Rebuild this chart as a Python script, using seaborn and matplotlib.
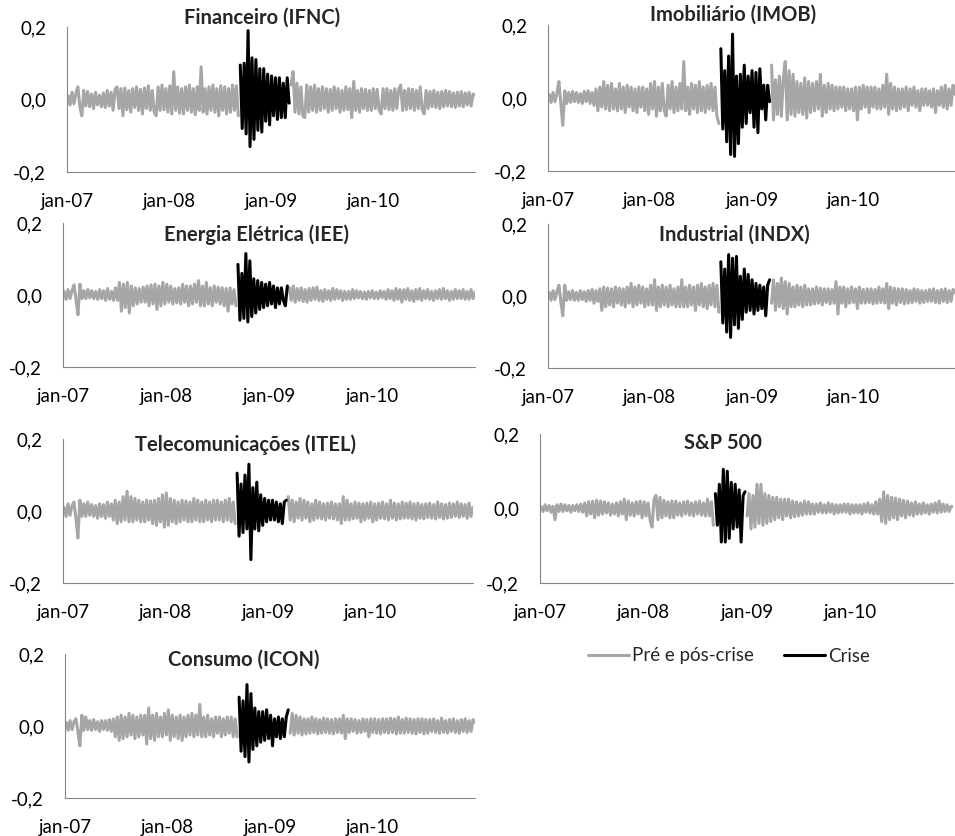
import numpy as np
import pandas as pd
import matplotlib
matplotlib.use("Agg")
import matplotlib.pyplot as plt
import seaborn as sns
from matplotlib.lines import Line2D
from matplotlib.ticker import FixedLocator, FuncFormatter

sns.set_theme(style="white")
plt.rcParams["font.family"] = ["Lato", "DejaVu Sans"]

# ---------------- data (weekly readings of daily returns, Jan-2007 .. Dec-2010) ----------------
first_week = "2007-01-05"

ifnc = [
    .010, -.015, .020, -.012, .018, .035, -.020, -.045, .025, -.018,
    .022, -.020, .015, -.025, .020, -.015, .012, -.020, .018, -.022,
    .025, -.018, .020, -.030, .028, .035, -.025, .030, -.045, .032,
    -.028, .025, -.035, .030, -.022, .035, -.030, .028, -.040, .032,
    -.025, .038, -.030, .025, -.035, -.045, .035, -.030, .040, -.028,
    .030, -.035, .038, -.040, .077, -.030, .035, -.038, .030, -.040,
    .035, -.030, .040, -.035, .030, -.042, .035, -.030, .090, -.035,
    .030, -.040, .035, -.030, .040, -.035, .030, -.045, .038, -.030,
    .035, -.040, .030, -.035, .040, -.030, .038, -.045,
    .095, -.080, .100, -.095, .190, -.130, .115, -.110, .110, -.085,
    .085, -.090, .085, -.060, .070, -.070, .065, -.045, .060, -.055,
    .060, -.050, .045, -.050, .060, -.010,
    .040, .077, -.035, .045, -.040, .035, -.045, -.050, .040, -.035,
    .035, -.030, .040, -.035, .030, -.030, .035, -.025, .030, -.035,
    .028, -.030, .035, -.025, .030, -.035, .025, -.030, .035, -.028,
    .030, -.050, .050, -.030, .025, -.035, .030, -.025, .028, -.030,
    .025, -.030, .030, -.025, .028, -.030, -.040, .030, -.025, .030,
    -.028, .025, -.030, .030, -.025, .028, .040, -.030, .025, -.028,
    .030, -.025, .028, -.030, .025, -.025, .035, -.028, -.040, .025,
    -.025, .022, -.020, .025, -.022, .020, -.025, .022, -.020, .025,
    -.018, .022, -.020, .018, -.022, .020, -.018, .022, -.020, .018,
    -.015, .020, -.018, .015, .012,
]

imob = [
    .010, -.012, .015, -.010, .012, .045, -.015, -.075, .020, -.015,
    .015, -.012, .018, -.010, .015, -.012, .012, -.015, .018, -.010,
    .020, -.015, .015, -.020, .025, -.035, .030, -.025, .045, -.030,
    .035, -.035, .040, -.030, .025, -.035, .040, -.030, .030, -.040,
    .035, -.025, .030, -.035, .025, -.040, .030, -.025, .030, -.035,
    .025, -.045, .040, -.030, .045, -.050, .030, -.035, .040, -.035,
    -.050, .035, -.030, .045, -.040, .030, -.035, .040, -.030, .100,
    -.035, .030, -.045, .040, -.030, .035, -.040, .045, -.035, .030,
    -.040, .035, -.030, .040, -.035, .030, -.050, -.070,
    .135, -.085, .075, -.120, .115, -.155, .175, -.160, .060, -.125,
    .065, -.080, .090, -.070, .060, -.040, .075, -.080, .070, -.095,
    .080, -.030, .035, -.060, .035, -.010,
    .090, -.060, .050, -.045, .060, -.050, .055, .100, -.060, .075,
    -.045, .065, -.050, .045, -.040, .040, -.045, .055, -.055, .045,
    -.040, .040, -.035, .045, -.030, .065, -.050, .035, -.040, .040,
    -.030, .035, -.035, .030, -.030, .030, -.025, .030, -.035, .025,
    -.030, .025, -.035, .030, -.060, .030, -.030, .035, -.025, .030,
    -.040, .030, -.025, .030, -.030, .025, -.030, .035, -.025, .065,
    -.045, .040, -.030, .030, -.035, .025, -.030, .025, -.025, .030,
    -.035, .025, -.020, .030, -.025, .020, -.035, .025, -.020, .025,
    -.020, .020, -.025, .025, -.040, .020, -.020, .030, -.025, .035,
    -.030, .025, -.020, .035, .010,
]

iee = [
    .010, -.012, .015, -.010, .012, .028, -.012, -.055, .030, -.010,
    .012, -.010, .015, -.008, .012, -.010, .010, -.012, .015, -.010,
    .012, -.015, .018, -.012, .010, -.015, .020, -.015, .035, -.045,
    .030, -.035, .035, -.050, .025, -.030, .020, -.025, .018, -.020,
    .022, -.020, .025, -.030, .028, -.025, .030, -.040, .025, -.030,
    .035, -.025, .030, -.020, .025, -.025, .018, -.022, .020, -.025,
    .030, -.020, .025, -.030, .025, -.025, .030, -.020, .040, -.030,
    .025, -.030, .035, -.025, .020, -.030, .025, -.020, .022, -.025,
    .020, -.030, .018, -.045, .020, -.025, .015, -.030,
    .085, -.070, .060, -.065, .115, -.075, .095, -.060, .045, -.050,
    .040, -.040, .035, -.035, .030, -.030, .035, -.025, .025, -.035,
    .020, -.025, .020, -.015, -.030, .025,
    .020, -.015, .025, -.020, .018, -.015, .020, -.018, .015, -.020,
    .018, -.015, .020, -.012, .022, -.015, .012, -.018, .015, -.012,
    .012, -.015, .018, -.012, .015, -.010, .012, -.015, .010, -.012,
    .010, -.012, .015, -.010, .012, -.008, .010, -.010, .008, -.012,
    .010, -.008, .012, -.010, .008, -.010, .012, -.008, .010, -.012,
    .015, -.010, .012, -.015, .018, -.012, .015, -.020, .015, -.012,
    .018, -.015, .012, -.018, .015, -.012, .018, -.015, .012, -.010,
    .015, -.012, .010, -.015, .012, -.010, .015, -.012, .018, -.010,
    .012, -.015, .010, -.012, .015, -.010, .012, -.010, .015, -.012,
    .010, -.012, .015, -.010, .008,
]

indx = [
    .010, -.012, .015, -.010, .012, .030, -.015, -.055, .030, -.012,
    .012, -.010, .015, -.012, .010, -.012, .015, -.010, .012, -.015,
    .015, -.012, .018, -.020, .015, -.015, .020, -.040, .025, -.030,
    .022, -.025, .020, -.030, .025, -.020, .022, -.025, .020, -.030,
    .025, -.020, .035, -.030, .025, -.025, .030, -.020, .025, -.030,
    .020, -.025, .030, -.025, .045, -.040, .025, -.030, .030, -.025,
    .025, -.030, .030, -.025, .020, -.030, .025, -.030, .045, -.030,
    .025, -.030, .030, -.025, .025, -.040, .030, -.025, .035, -.030,
    .025, -.035, .030, -.025, .035, -.030, .030, -.045,
    .095, -.075, .075, -.100, .115, -.115, .105, -.080, .110, -.090,
    .055, -.065, .075, -.045, .060, -.040, .045, -.050, .035, -.040,
    .030, -.035, .025, -.055, .030, .045,
    -.020, .045, -.040, .035, -.030, .050, -.035, .040, -.050, .035,
    -.030, .025, -.030, .030, -.025, .025, -.030, .030, -.025, .020,
    -.025, .020, -.022, .025, -.020, .022, -.025, .020, -.018, .020,
    -.022, .018, -.020, .040, -.050, .025, -.020, .025, -.030, .020,
    -.020, .025, -.018, .020, -.035, .025, -.020, .018, -.020, .020,
    -.018, .020, -.022, .018, -.020, .025, -.018, .020, -.020, .035,
    -.035, .025, -.020, .022, -.025, .020, -.018, .020, -.022, .018,
    -.020, .015, -.018, .020, -.015, .018, -.020, .015, -.018, .015,
    -.015, .018, -.015, .020, -.018, .015, -.020, .018, -.015, .020,
    -.018, .015, -.015, .018, .010,
]

itel = [
    .010, -.015, .020, -.012, .015, .025, -.020, -.075, .030, -.015,
    .020, -.015, .025, -.012, .018, -.015, .015, -.020, .020, -.015,
    .018, -.020, .025, -.015, .020, -.025, .030, -.035, .025, -.030,
    .040, -.025, .055, -.030, .040, -.030, .035, -.025, .030, -.030,
    .025, -.030, .030, -.025, .028, -.035, .030, -.040, .035, -.030,
    .045, -.045, .050, -.040, .035, -.030, .030, -.035, .025, -.030,
    .030, -.025, .028, -.030, .025, -.030, .035, -.025, .030, -.030,
    .025, -.030, .030, -.025, .025, -.030, .030, -.025, .030, -.025,
    .025, -.030, .030, -.025, .035, -.030, .025, -.035,
    .105, -.070, .075, -.060, .100, -.050, .130, -.135, .065, -.050,
    .080, -.055, .045, -.040, .035, -.030, .030, -.025, .030, -.025,
    .025, -.030, .020, -.035, .025, .030,
    .040, -.025, .030, -.030, .025, -.020, .035, -.025, .030, -.020,
    .025, -.030, .020, -.025, .030, -.020, .025, -.022, .020, -.025,
    .022, -.020, .025, -.022, .020, -.025, .020, -.035, .040, -.025,
    .030, -.025, .020, -.022, .025, -.020, .022, -.030, .020, -.025,
    .022, -.020, .025, -.030, .020, -.025, .022, -.020, .025, -.022,
    .020, -.025, .030, -.020, .022, -.025, .020, -.022, .025, -.020,
    .022, -.020, .025, -.022, .020, -.025, .022, -.020, .018, -.022,
    .020, -.018, .022, -.020, .018, -.022, .025, -.018, .020, -.022,
    .018, -.020, .022, -.018, .020, -.015, .025, -.018, .020, -.015,
    .018, -.020, .022, -.015, .010,
]

sp500 = [
    .005, -.008, .010, -.006, .008, -.010, .006, -.030, .010, -.008,
    .012, -.008, .010, -.006, .008, -.010, .008, -.006, .010, -.008,
    .012, -.010, .015, -.020, .018, -.015, .020, -.025, .022, -.018,
    .020, -.015, .018, -.012, .015, -.018, .012, -.015, .015, -.020,
    .018, -.015, .025, -.030, .020, -.018, .015, -.020, .018, -.015,
    .020, -.025, .018, -.020, .015, -.030, -.050, .025, .035, -.030,
    .030, -.025, .022, -.020, .018, -.025, .020, -.025, .020, -.018,
    .015, -.020, .018, -.015, .020, -.018, .015, -.020, .018, -.015,
    .020, -.018, .015, -.020, .025, -.020, .018, -.045,
    .040, -.045, .065, -.090, .105, -.090, .100, -.080, .070, -.055,
    .065, -.050, .050, -.090, .035, .045,
    -.020, .040, -.055, .035, -.050, .065, -.040, .065, -.045, .040,
    -.040, .035, -.035, .030, -.030, .030, -.025, .025, -.030, .025,
    -.020, .025, -.025, .020, -.022, .018, -.020, .015, -.018, .020,
    -.015, .018, -.015, .012, -.015, .012, -.010, .015, -.012, .010,
    -.012, .015, -.010, .012, -.015, .010, -.012, .010, -.010, .012,
    -.010, .012, -.015, .010, -.012, .010, -.012, .010, -.015, .012,
    -.010, .015, -.012, .010, -.015, .018, -.015, .025, -.035, .045,
    -.040, .035, -.030, .030, -.025, .028, -.030, .025, -.020, .022,
    -.025, .020, -.018, .015, -.020, .018, -.015, .012, -.015, .015,
    -.012, .010, -.015, .012, -.010, .015, -.012, .020, -.010, .012,
    -.008, .010, -.008, .006, .005,
]

icon = [
    .010, -.012, .015, -.010, .012, .020, -.015, -.055, .030, -.012,
    .025, -.010, .015, -.012, .018, -.010, .012, -.015, .015, -.010,
    .015, -.012, .018, -.015, .020, -.030, .025, -.040, .030, -.035,
    .025, -.030, .035, -.025, .030, -.035, .025, -.030, .030, -.025,
    .030, -.050, .050, -.035, .030, -.040, .035, -.030, .025, -.030,
    .035, -.025, .045, -.040, .030, -.030, .025, -.035, .030, -.040,
    .025, -.030, .030, -.025, .035, -.030, .030, -.025, .060, -.030,
    .025, -.030, .030, -.025, .020, -.030, .025, -.020, .025, -.030,
    .020, -.025, .025, -.020, .025, -.030, .020, -.030,
    .080, -.070, .070, -.085, .115, -.100, .090, -.065, .050, -.055,
    .040, -.045, .040, -.040, .045, -.035, .030, -.055, .020, -.030,
    .025, -.035, .020, -.030, .025, .045,
    -.020, .035, -.025, .030, -.020, .025, -.025, .020, -.022, .020,
    -.020, .025, -.018, .020, -.022, .018, -.020, .022, -.018, .020,
    -.020, .018, -.022, .020, -.018, .020, -.020, .030, -.035, .020,
    -.018, .020, -.015, .018, -.020, .015, -.018, .020, -.015, .018,
    -.030, .020, -.018, .020, -.020, .018, -.022, .020, -.018, .020,
    -.020, .022, -.018, .020, -.022, .025, -.020, .018, -.020, .022,
    -.018, .020, -.020, .018, -.022, .020, -.018, .020, -.022, .018,
    -.020, .018, -.015, .020, -.018, .015, -.020, .022, -.018, .015,
    -.020, .018, -.015, .020, -.018, .015, -.020, .018, -.015, .020,
    -.018, .015, -.015, .018, .010,
]

titles = ["Financeiro (IFNC)", "Imobiliário (IMOB)", "Energia Elétrica (IEE)",
          "Industrial (INDX)", "Telecomunicações (ITEL)", "S&P 500", "Consumo (ICON)"]
series = [ifnc, imob, iee, indx, itel, sp500, icon]
crisis_start = ["2008-09-12"] * 7
crisis_end = ["2009-03-06"] * 5 + ["2008-12-26"] + ["2009-03-06"]

xtick_dates = ["2007-01-01", "2008-01-01", "2009-01-01", "2010-01-01"]
xtick_labels = ["jan-07", "jan-08", "jan-09", "jan-10"]
legend_labels = ["Pré e pós-crise", "Crise"]

# ---------------- layout (pixel boxes: left, top, right, bottom) ----------------
W, H = 955, 836
boxes = [(67, 27, 475, 172), (548, 25, 955, 171),
         (63, 223, 475, 367), (548, 224, 955, 368),
         (63, 439, 473, 583), (540, 434, 953, 583),
         (65, 654, 475, 798)]
title_pos = [(262, 18), (733, 15), (256, 235), (734, 235), (245, 445), (723, 443), (244, 660)]

GRAY = "#A6A6A6"
AXC = "#868686"
FS = 13.5
TFS = 14.5

fig = plt.figure(figsize=(W / 100, H / 100), dpi=100)

for vals, title, cs, ce, box, tp in zip(series, titles, crisis_start, crisis_end, boxes, title_pos):
    l, t, r, b = box
    ax = fig.add_axes([l / W, 1 - b / H, (r - l) / W, (b - t) / H])
    dates = pd.date_range(first_week, periods=len(vals), freq="7D")
    seg = np.where(dates < pd.Timestamp(cs), "pre",
                   np.where(dates <= pd.Timestamp(ce), "crise", "pos"))
    df = pd.DataFrame({"data": dates, "retorno": vals, "seg": seg})
    sns.lineplot(data=df, x="data", y="retorno", hue="seg",
                 hue_order=["pre", "pos", "crise"],
                 palette={"pre": GRAY, "pos": GRAY, "crise": "black"},
                 estimator=None, linewidth=2.2, legend=False, ax=ax)
    ax.set_xlim(pd.Timestamp("2007-01-01"), pd.Timestamp("2010-12-31"))
    ax.set_ylim(-0.2, 0.2)
    ax.set_xlabel("")
    ax.set_ylabel("")
    ax.set_xticks([pd.Timestamp(d) for d in xtick_dates])
    ax.set_xticklabels(xtick_labels)
    yt = np.round(np.arange(-0.2, 0.2001, 0.04), 2)
    ax.yaxis.set_major_locator(FixedLocator(yt))
    ax.yaxis.set_major_formatter(FuncFormatter(
        lambda v, p: (f"{v:.1f}".replace(".", ",").replace("-0,0", "0,0"))
        if abs(round(v, 2)) in (0.0, 0.2) else ""))
    for s in ["top", "right"]:
        ax.spines[s].set_visible(False)
    for s in ["left", "bottom"]:
        ax.spines[s].set_color(AXC)
        ax.spines[s].set_linewidth(0.8)
    ax.tick_params(axis="x", direction="in", length=6, width=0.8, color=AXC,
                   pad=15, labelsize=FS, labelcolor="black")
    ax.tick_params(axis="y", direction="in", length=4, width=0.8, color=AXC,
                   pad=15, labelsize=FS, labelcolor="black")
    ax.grid(False)
    ax.set_facecolor("none")
    fig.text(tp[0] / W, 1 - tp[1] / H, title, ha="center", va="center",
             fontsize=TFS, fontweight="bold")

handles = [Line2D([], [], color=GRAY, lw=2.2), Line2D([], [], color="black", lw=2.2)]
fig.legend(handles, legend_labels, loc="center left", bbox_to_anchor=(588 / W, 1 - 656 / H),
           ncol=2, frameon=False, fontsize=FS, handlelength=2.2, handletextpad=0.15,
           columnspacing=1.6, borderpad=0, borderaxespad=0)

fig.savefig("out.png", dpi=100)
